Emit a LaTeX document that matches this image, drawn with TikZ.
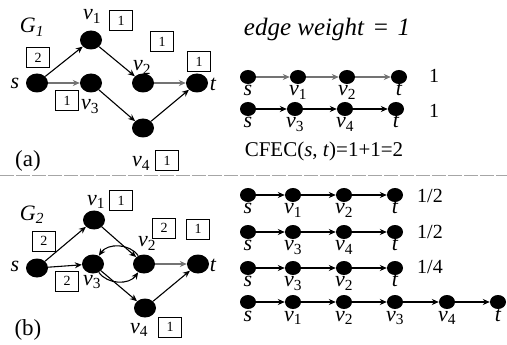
\documentclass[tikz,border=0pt]{standalone}
\usepackage{fontspec}
\setmainfont{Liberation Serif}
\usetikzlibrary{shapes.geometric,arrows.meta}
\newcommand\vlab[1]{\textit{v}\textsubscript{\textup{#1}}}
\begin{document}
\begin{tikzpicture}[x=1pt,y=-1pt,
 bigdot/.style={ellipse,fill=black,inner sep=0pt,minimum width=22pt,minimum height=19pt},
 smalldot/.style={ellipse,fill=black,inner sep=0pt,minimum width=16pt,minimum height=14pt},
 wbox/.style={draw,line width=1pt,minimum width=23pt,minimum height=20pt,inner sep=0pt,font=\fontsize{14}{14}\selectfont},
 lbl/.style={inner sep=0pt,anchor=base,font=\fontsize{22}{22}\selectfont\itshape},
 txt/.style={inner sep=0pt,anchor=base,font=\fontsize{20}{20}\selectfont},
 edge/.style={-{Stealth[length=7pt,width=6pt]},line width=1.1pt},
 gedge/.style={edge,draw=black!55},
]
\useasboundingbox (0,0) rectangle (507,345);

% ---------- (a) ----------
\node[lbl] (G1) at (32,33) {G\textsubscript{1}};
\node[bigdot] (s) at (37,83) {};
\node[bigdot] (v1) at (91,40) {};
\node[bigdot] (v3) at (91,83) {};
\node[bigdot] (v2) at (143,83) {};
\node[bigdot] (t) at (197,83) {};
\node[bigdot] (v4) at (143,128) {};
\node[lbl] (ls) at (15,89) {s};
\node[lbl] (lv1) at (92,20) {\vlab{1}};
\node[lbl] (lv2) at (142,71) {\vlab{2}};
\node[lbl] (lt) at (213,91) {t};
\node[lbl] (lv3) at (90,110) {\vlab{3}};
\node[lbl] (lv4) at (141,167) {\vlab{4}};
\node[wbox] (bs) at (38,58) {2};
\node[wbox] (b1) at (121,21) {1};
\node[wbox] (b2) at (162,42) {1};
\node[wbox] (bt) at (199,62) {1};
\node[wbox] (b3) at (67,101) {1};
\node[wbox] (b4) at (167,161) {1};
\node[txt,font=\fontsize{23}{23}\selectfont] (a) at (28,167) {(a)};
\draw[edge] (s) -- (v1);
\draw[gedge] (s) -- (v3);
\draw[edge] (v1) -- (v2);
\draw[gedge] (v2) -- (t);
\draw[edge] (v3) -- (v4);
\draw[edge] (v4) -- (t);

\node[txt,font=\fontsize{25}{25}\selectfont\itshape] (ew) at (327,36) {edge weight\,\,=\,\,1};
\foreach \x/\lb [count=\i] in {248/s,298/\vlab{1},347/\vlab{2},399/t}{
  \node[smalldot] (p\i) at (\x,77) {};
  \node[lbl] (pl\i) at (\x,96) {\lb};
}
\foreach \x/\lb [count=\i] in {248/s,295/\vlab{3},345/\vlab{4},396/t}{
  \node[smalldot] (q\i) at (\x,109) {};
  \node[lbl] (ql\i) at (\x,128) {\lb};
}
\draw[gedge] (p1) -- (p2); \draw[gedge] (p2) -- (p3); \draw[gedge] (p3) -- (p4);
\draw[edge] (q1) -- (q2); \draw[edge] (q2) -- (q3); \draw[edge] (q3) -- (q4);
\node[txt] (w1) at (434,83) {1};
\node[txt] (w2) at (434,118) {1};
\node[txt,font=\fontsize{21}{21}\selectfont] (cfec) at (324,157) {CFEC(\textit{s}, \textit{t})=1+1=2};

% ---------- separator ----------
\coordinate (sepL) at (0,176);
\coordinate (sepR) at (507,176);
\draw[gray!70,line width=1pt,dash pattern=on 14pt off 2pt] (sepL) -- (sepR);

% ---------- (b) ----------
\node[lbl] (G2) at (32,220) {G\textsubscript{2}};
\node[bigdot] (S) at (37,268) {};
\node[bigdot] (V1) at (94,220) {};
\node[bigdot] (V3) at (93,264) {};
\node[bigdot] (V2) at (144,264) {};
\node[bigdot] (T) at (198,264) {};
\node[bigdot] (V4) at (145,308) {};
\node[lbl] (LS) at (15,272) {s};
\node[lbl] (LV1) at (96,205) {\vlab{1}};
\node[lbl] (LV2) at (147,247) {\vlab{2}};
\node[lbl] (LT) at (213,272) {t};
\node[lbl] (LV3) at (92,285) {\vlab{3}};
\node[lbl] (LV4) at (139,333) {\vlab{4}};
\node[wbox] (BS) at (44,241) {2};
\node[wbox] (B1) at (121,201) {1};
\node[wbox] (B2) at (164,228) {2};
\node[wbox] (BT) at (198,229) {1};
\node[wbox] (B3) at (67,281) {2};
\node[wbox] (B4) at (170,327) {1};
\node[txt,font=\fontsize{23}{23}\selectfont] (b) at (28,335) {(b)};
\draw[edge] (S) -- (V1);
\draw[edge] (S) -- (V3);
\draw[edge] (V1) -- (V2);
\draw[gedge] (V2) -- (T);
\draw[edge] (V3) -- (V4);
\draw[edge] (V4) -- (T);
\draw[edge] (V2) to[bend right=55] (V3);
\draw[edge] (V3) to[bend right=55] (V2);

\foreach \x/\lb [count=\i] in {248/s,293/\vlab{1},344/\vlab{2},395/t}{
  \node[smalldot] (r\i) at (\x,195) {};
  \node[lbl] (rl\i) at (\x,214) {\lb};
}
\foreach \x/\lb [count=\i] in {248/s,293/\vlab{3},344/\vlab{4},395/t}{
  \node[smalldot] (u\i) at (\x,232) {};
  \node[lbl] (ul\i) at (\x,251) {\lb};
}
\foreach \x/\lb [count=\i] in {248/s,293/\vlab{3},344/\vlab{2},395/t}{
  \node[smalldot] (k\i) at (\x,268) {};
  \node[lbl] (kl\i) at (\x,287) {\lb};
}
\foreach \x/\lb [count=\i] in {248/s,293/\vlab{1},344/\vlab{2},395/\vlab{3},447/\vlab{4},498/t}{
  \node[smalldot] (m\i) at (\x,302) {};
  \node[lbl] (ml\i) at (\x,321) {\lb};
}
\draw[edge] (r1) -- (r2); \draw[edge] (r2) -- (r3); \draw[edge] (r3) -- (r4);
\draw[edge] (u1) -- (u2); \draw[edge] (u2) -- (u3); \draw[edge] (u3) -- (u4);
\draw[edge] (k1) -- (k2); \draw[edge] (k2) -- (k3); \draw[edge] (k3) -- (k4);
\draw[edge] (m1) -- (m2); \draw[edge] (m2) -- (m3); \draw[edge] (m3) -- (m4);
\draw[edge] (m4) -- (m5); \draw[edge] (m5) -- (m6);
\node[txt] (f1) at (430,202) {1/2};
\node[txt] (f2) at (430,238) {1/2};
\node[txt] (f3) at (430,273) {1/4};
\end{tikzpicture}
\end{document}
